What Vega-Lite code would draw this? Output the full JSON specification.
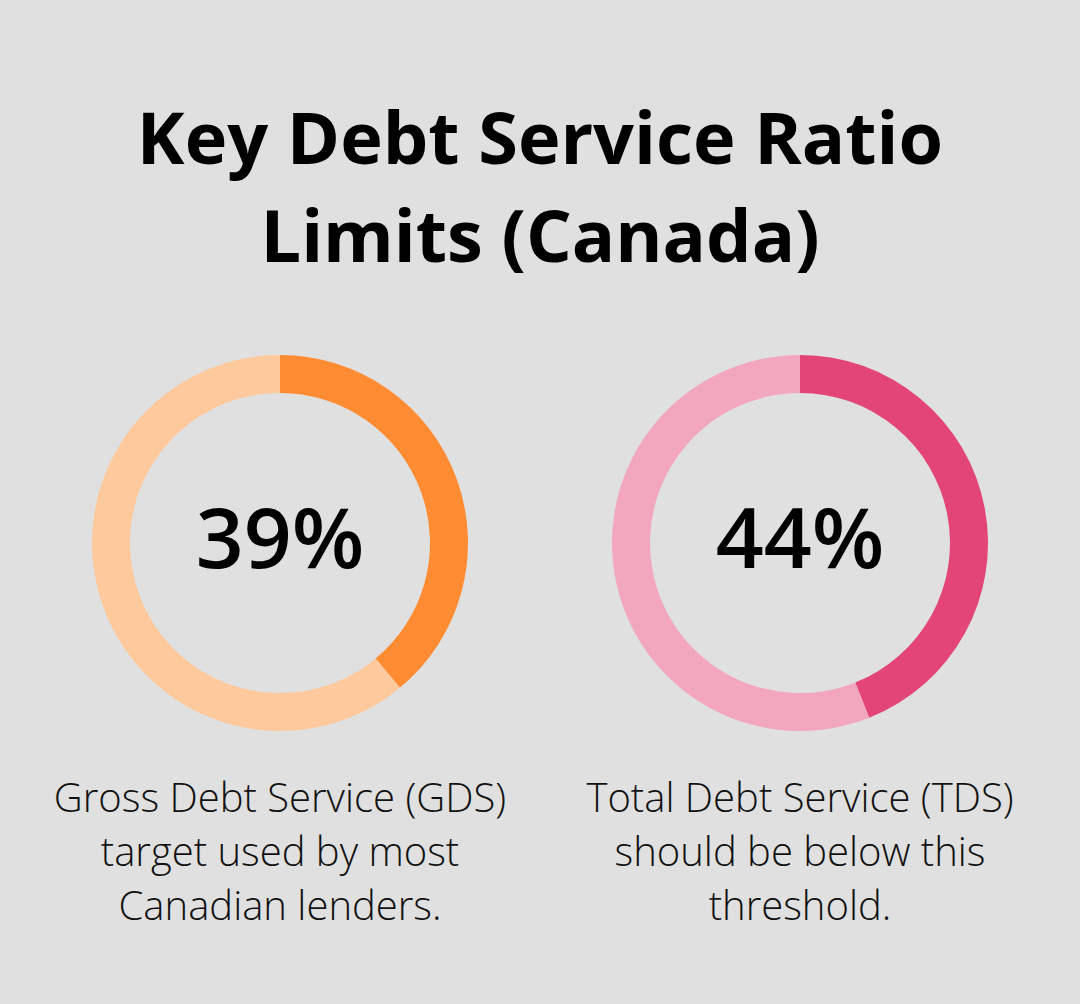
{
  "$schema": "https://vega.github.io/schema/vega-lite/v6.json",
  "background": "#dfe0df",
  "padding": {"top": 106, "left": 20, "right": 20, "bottom": 77},
  "title": {
    "text": ["Key Debt Service Ratio", "Limits (Canada)"],
    "font": "Open Sans",
    "fontSize": 72,
    "fontWeight": 700,
    "lineHeight": 98,
    "anchor": "middle",
    "color": "#000000",
    "offset": 78
  },
  "datasets": {
    "rings": [
      {"metric": "GDS", "part": "GDS ratio", "seq": 1, "value": 39},
      {"metric": "GDS", "part": "GDS remainder", "seq": 2, "value": 61},
      {"metric": "TDS", "part": "TDS ratio", "seq": 1, "value": 44},
      {"metric": "TDS", "part": "TDS remainder", "seq": 2, "value": 56}
    ],
    "labels": [
      {"metric": "GDS", "label": "39%"},
      {"metric": "TDS", "label": "44%"}
    ]
  },
  "spacing": 0,
  "hconcat": [
    {
      "width": 520,
      "height": 376,
      "title": {
        "text": ["Gross Debt Service (GDS)", "target used by most", "Canadian lenders."],
        "orient": "bottom",
        "font": "Open Sans",
        "fontSize": 40,
        "fontWeight": 300,
        "lineHeight": 54,
        "offset": 49,
        "color": "#111111",
        "anchor": "middle"
      },
      "layer": [
        {
          "data": {"name": "rings"},
          "transform": [{"filter": "datum.metric === 'GDS'"}],
          "mark": {"type": "arc", "outerRadius": 188, "innerRadius": 150},
          "encoding": {
            "theta": {"field": "value", "type": "quantitative", "stack": true},
            "order": {"field": "seq", "type": "quantitative"},
            "color": {
              "field": "part",
              "type": "nominal",
              "scale": {
                "domain": ["GDS ratio", "GDS remainder", "TDS ratio", "TDS remainder"],
                "range": ["#ff8c33", "#ffc99e", "#e34577", "#f2a7be"]
              },
              "legend": null
            }
          }
        },
        {
          "data": {"name": "labels"},
          "transform": [{"filter": "datum.metric === 'GDS'"}],
          "mark": {"type": "text", "font": "Open Sans", "fontSize": 84, "fontWeight": 600, "align": "center", "baseline": "middle", "color": "#000000"},
          "encoding": {"text": {"field": "label", "type": "nominal"}}
        }
      ]
    },
    {
      "width": 520,
      "height": 376,
      "title": {
        "text": ["Total Debt Service (TDS)", "should be below this", "threshold."],
        "orient": "bottom",
        "font": "Open Sans",
        "fontSize": 40,
        "fontWeight": 300,
        "lineHeight": 54,
        "offset": 49,
        "color": "#111111",
        "anchor": "middle"
      },
      "layer": [
        {
          "data": {"name": "rings"},
          "transform": [{"filter": "datum.metric === 'TDS'"}],
          "mark": {"type": "arc", "outerRadius": 188, "innerRadius": 150},
          "encoding": {
            "theta": {"field": "value", "type": "quantitative", "stack": true},
            "order": {"field": "seq", "type": "quantitative"},
            "color": {
              "field": "part",
              "type": "nominal",
              "scale": {
                "domain": ["GDS ratio", "GDS remainder", "TDS ratio", "TDS remainder"],
                "range": ["#ff8c33", "#ffc99e", "#e34577", "#f2a7be"]
              },
              "legend": null
            }
          }
        },
        {
          "data": {"name": "labels"},
          "transform": [{"filter": "datum.metric === 'TDS'"}],
          "mark": {"type": "text", "font": "Open Sans", "fontSize": 84, "fontWeight": 600, "align": "center", "baseline": "middle", "color": "#000000"},
          "encoding": {"text": {"field": "label", "type": "nominal"}}
        }
      ]
    }
  ],
  "config": {"view": {"stroke": null}}
}
